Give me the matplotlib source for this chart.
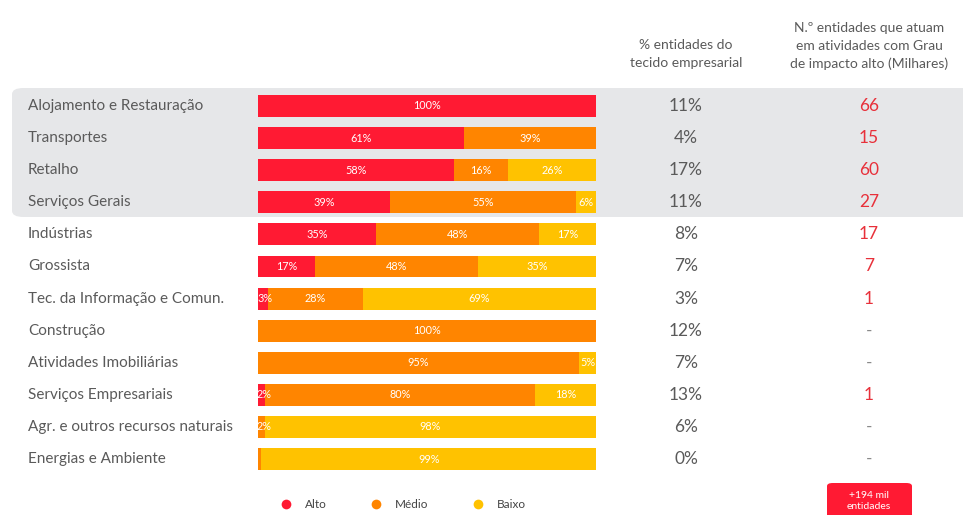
import matplotlib.pyplot as plt
from matplotlib.patches import FancyBboxPatch
from matplotlib.lines import Line2D

plt.rcParams['font.family'] = ['Lato', 'DejaVu Sans']

sectors = ["Alojamento e Restauração", "Transportes", "Retalho", "Serviços Gerais",
           "Indústrias", "Grossista", "Tec. da Informação e Comun.", "Construção",
           "Atividades Imobiliárias", "Serviços Empresariais",
           "Agr. e outros recursos naturais", "Energias e Ambiente"]
alto  = [100, 61, 58, 39, 35, 17, 3, 0, 0, 2, 0, 0]
medio = [0, 39, 16, 55, 48, 48, 28, 100, 95, 80, 2, 1]
baixo = [0, 0, 26, 6, 17, 35, 69, 0, 5, 18, 98, 99]
pct_tecido = ["11%", "4%", "17%", "11%", "8%", "7%", "3%", "12%", "7%", "13%", "6%", "0%"]
n_alto = ["66", "15", "60", "27", "17", "7", "1", "-", "-", "1", "-", "-"]

RED, ORANGE, YELLOW = "#FF1A33", "#FF8500", "#FFC200"
GREY_TXT = "#5a5a5a"
W, H = 963, 515

fig = plt.figure(figsize=(W / 100, H / 100), dpi=100)
fig.patch.set_facecolor("white")

# bar axes spans full height; rows mapped so centres land on ~106 + 32.1*i px
row_h = 32.1
top = -106 / row_h
bot = (H - 106) / row_h
ax = fig.add_axes([258 / W, 0, 338 / W, 1])
ax.set_zorder(2)
ax.set_xlim(0, 100)
ax.set_ylim(bot, top)
ax.axis("off")

# grey highlight box behind first four rows
fig.patches.append(FancyBboxPatch((12 / W, 1 - 217 / H), (W + 20) / W, 129 / H,
                                  boxstyle="round,pad=0,rounding_size=0.012",
                                  transform=fig.transFigure, facecolor="#E6E7E9",
                                  edgecolor="none", zorder=0))

y = list(range(len(sectors)))
left = [0] * len(sectors)
for vals, col in [(alto, RED), (medio, ORANGE), (baixo, YELLOW)]:
    ax.barh(y, vals, left=left, height=0.685, color=col, edgecolor="none", zorder=2)
    for i, v in enumerate(vals):
        if v >= 2:
            # tiny segments: start the label at the segment edge
            if v <= 3:
                ax.text(left[i] - 0.3, i, f"{v}%", ha="left", va="center",
                        color="white", fontsize=7.8, zorder=3)
            else:
                ax.text(left[i] + v / 2, i, f"{v}%", ha="center", va="center",
                        color="white", fontsize=7.8, zorder=3)
    left = [l + v for l, v in zip(left, vals)]

for i, s in enumerate(sectors):
    ax.text(-230 / 338 * 100, i, s, ha="left", va="center", color=GREY_TXT, fontsize=11)
    ax.text((686 - 258) / 338 * 100, i, pct_tecido[i], ha="center", va="center",
            color=GREY_TXT, fontsize=12.5)
    ax.text((869 - 258) / 338 * 100, i, n_alto[i], ha="center", va="center",
            color="#E8303A" if n_alto[i] != "-" else "#8a8a8a", fontsize=12.5)

fig.text(686 / W, 1 - 54 / H, "% entidades do\ntecido empresarial", ha="center",
         va="center", color=GREY_TXT, fontsize=10, linespacing=1.6)
fig.text(869 / W, 1 - 46 / H, "N.º entidades que atuam\nem atividades com Grau\nde impacto alto (Milhares)",
         ha="center", va="center", color=GREY_TXT, fontsize=10, linespacing=1.6)

# red total badge
fig.patches.append(FancyBboxPatch((827 / W, 1 - 530 / H), 85 / W, 47 / H,
                                  boxstyle="round,pad=0,rounding_size=0.006",
                                  transform=fig.transFigure, facecolor="#FF1A33",
                                  edgecolor="none", zorder=1))
fig.text(869 / W, 1 - 501 / H, "+194 mil\nentidades", ha="center", va="center",
         color="white", fontsize=7.5, linespacing=1.3)

handles = [Line2D([], [], marker="o", linestyle="none", markersize=7,
                  markerfacecolor=c, markeredgecolor="none", label=l)
           for c, l in [(RED, "Alto"), (ORANGE, "Médio"), (YELLOW, "Baixo")]]
fig.legend(handles=handles, loc="center", bbox_to_anchor=(400 / W, 1 - 505 / H), ncol=3,
           frameon=False, fontsize=8.5, handletextpad=0.6, columnspacing=3.2,
           labelcolor="#444444")

fig.savefig("out.png", dpi=100)
